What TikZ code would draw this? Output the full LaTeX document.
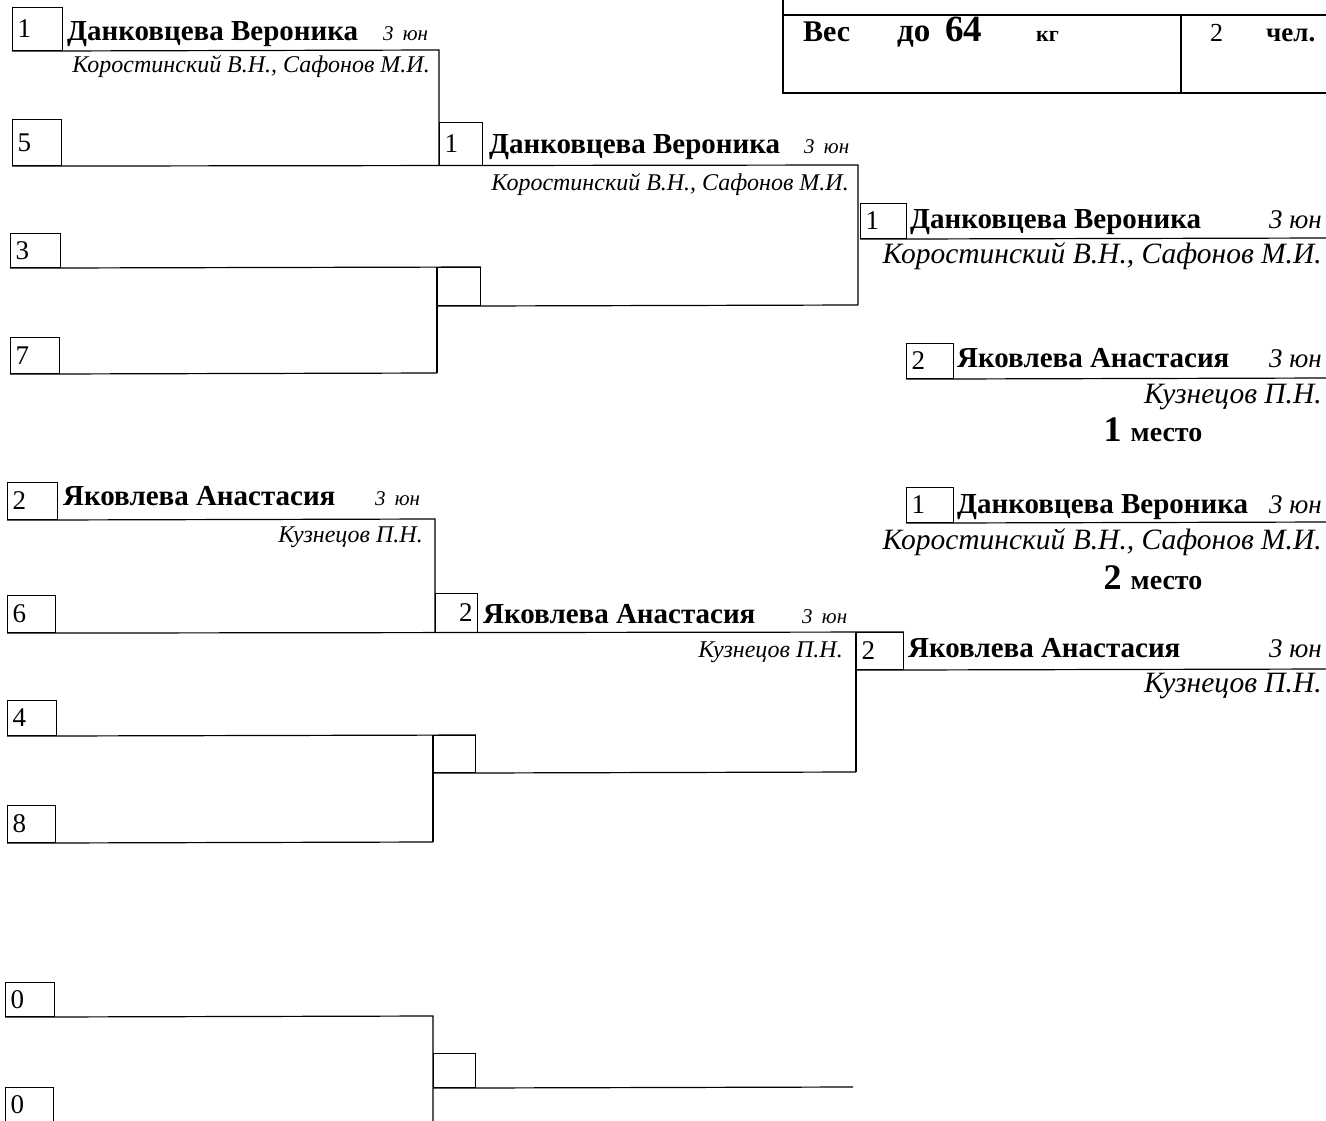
\documentclass[tikz,border=0pt]{standalone}
\usepackage{fontspec}
\setmainfont{Liberation Serif}
\begin{document}
\begin{tikzpicture}[x=1pt,y=-1pt,
  nbox/.style={draw, line width=1.1pt, anchor=north west, inner xsep=5pt, inner ysep=0pt, align=left, font=\fontsize{27}{27}\selectfont},
  nm/.style={anchor=base west, inner sep=0pt, font=\fontsize{29}{29}\selectfont\bfseries},
  yr/.style={anchor=base west, inner sep=0pt, font=\fontsize{21}{21}\selectfont\itshape},
  yrbig/.style={anchor=base east, inner sep=0pt, font=\fontsize{27}{27}\selectfont\itshape},
  co/.style={anchor=base east, inner sep=0pt, font=\fontsize{24}{24}\selectfont\itshape},
  cobig/.style={anchor=base east, inner sep=0pt, font=\fontsize{29.5}{29.5}\selectfont\itshape},
  wire/.style={line width=1.2pt, line join=miter},
  hdr/.style={line width=2.6pt},
  place/.style={anchor=base, inner sep=0pt, font=\bfseries}]
\useasboundingbox (0,0) rectangle (1326,1120);

% ---------- header ----------
\coordinate (h0) at (783,0);
\coordinate (h1) at (783,93);
\coordinate (h2) at (1330,93);
\coordinate (h3) at (783,15);
\coordinate (h4) at (1330,15);
\coordinate (h5) at (1181,15);
\coordinate (h6) at (1181,93);
\draw[hdr] (h0) -- (h1) -- (h2);
\draw[hdr] (h3) -- (h4);
\draw[hdr] (h5) -- (h6);
\node[anchor=base west, inner sep=0pt, font=\fontsize{30}{30}\selectfont\bfseries] (hv) at (803,41) {Вес};
\node[anchor=base west, inner sep=0pt, font=\fontsize{33}{33}\selectfont\bfseries] (hd) at (897,41) {до};
\node[anchor=base west, inner sep=0pt, font=\fontsize{37}{37}\selectfont\bfseries] (h64) at (945,41) {64};
\node[anchor=base west, inner sep=0pt, font=\fontsize{22}{22}\selectfont\bfseries] (hkg) at (1036,41) {кг};
\node[anchor=base west, inner sep=0pt, font=\fontsize{26}{26}\selectfont] (hn) at (1210,41) {2};
\node[anchor=base west, inner sep=0pt, font=\fontsize{27}{27}\selectfont\bfseries] (hch) at (1266,41) {чел.};

% ---------- upper half ----------
\node[nbox, text width=40pt, minimum height=43pt] (b1) at (12,7) {1};
\node[nbox, text width=39pt, minimum height=46pt] (b5) at (12,119) {5};
\coordinate (m1a) at (439,50);
\coordinate (m1b) at (439,165);
\coordinate (q1a) at (858,165);
\coordinate (q1b) at (858,305);
\draw[wire] (b1.south west) -- (m1a) -- (m1b);
\draw[wire] (b5.south west) -- (q1a) -- (q1b);
\node[nbox, text width=33pt, minimum height=43pt] (w1) at (439,122) {1};
\node[nm] (t1) at (67,40) {Данковцева Вероника};
\node[yr] (y1) at (383,40) {3\hspace{4pt} юн};
\node[co] (c1) at (430,72) {Коростинский В.Н., Сафонов М.И.};
\node[nm] (t2) at (489,153) {Данковцева Вероника};
\node[yr] (y2) at (804,153) {3\hspace{4pt} юн};
\node[co] (c2) at (849,190) {Коростинский В.Н., Сафонов М.И.};

\node[nbox, text width=40pt, minimum height=34pt] (b3) at (10,233) {3};
\node[nbox, text width=33pt, minimum height=38pt] (e1) at (437,267) {};
\node[nbox, text width=39pt, minimum height=36pt] (b7) at (10,337) {7};
\coordinate (m2b) at (437,373);
\draw[wire] (b3.south west) -- (e1.north east);
\draw[wire] (e1.north west) -- (m2b);
\draw[wire] (b7.south west) -- (m2b);
\draw[wire] (e1.south west) -- (q1b);

% final upper
\node[nbox, text width=36pt, minimum height=35pt] (f1) at (860,203) {1};
\coordinate (f1e) at (1330,238);
\draw[wire] (f1.south west) -- (f1e);
\node[nm] (t3) at (910,228) {Данковцева Вероника};
\node[yrbig] (y3) at (1322,228) {3 юн};
\node[cobig] (c3) at (1322,263) {Коростинский В.Н., Сафонов М.И.};

% ---------- results ----------
\node[nbox, text width=37pt, minimum height=35pt] (p2) at (906,343) {2};
\coordinate (p2e) at (1330,378);
\draw[wire] (p2.south west) -- (p2e);
\node[nm] (t4) at (957,367) {Яковлева Анастасия};
\node[yrbig] (y4) at (1322,367) {3 юн};
\node[cobig] (c4) at (1322,403) {Кузнецов П.Н.};
\node[place] (pl1) at (1153,441) {\fontsize{36}{36}\selectfont 1 \fontsize{28}{28}\selectfont место};

\node[nbox, text width=37pt, minimum height=35pt] (p1) at (906,487) {1};
\coordinate (p1e) at (1330,522);
\draw[wire] (p1.south west) -- (p1e);
\node[nm] (t5) at (957,513) {Данковцева Вероника};
\node[yrbig] (y5) at (1322,513) {3 юн};
\node[cobig] (c5) at (1322,549) {Коростинский В.Н., Сафонов М.И.};
\node[place] (pl2) at (1153,589) {\fontsize{36}{36}\selectfont 2 \fontsize{28}{28}\selectfont место};

% ---------- lower half ----------
\node[nbox, text width=40pt, minimum height=37pt] (b2) at (7,482) {2};
\node[nbox, text width=38pt, minimum height=37pt] (b6) at (7,595) {6};
\node[nbox, text width=32pt, minimum height=39pt, align=right] (w2) at (435,593) {2};
\node[nbox, text width=37pt, minimum height=37pt] (f2) at (856,632) {2};
\coordinate (m3a) at (435,519);
\coordinate (m3b) at (435,632);
\coordinate (q2b) at (856,772);
\draw[wire] (b2.south west) -- (m3a) -- (m3b);
\draw[wire] (b6.south west) -- (f2.north east);
\draw[wire] (f2.north west) -- (q2b);
\coordinate (f2e) at (1330,669);
\draw[wire] (f2.south west) -- (f2e);
\node[nm] (t6) at (63,505) {Яковлева Анастасия};
\node[yr] (y6) at (375,505) {3\hspace{4pt} юн};
\node[co] (c6) at (423,542) {Кузнецов П.Н.};
\node[nm] (t7) at (483,623) {Яковлева Анастасия};
\node[yr] (y7) at (802,623) {3\hspace{4pt} юн};
\node[co] (c7) at (843,657) {Кузнецов П.Н.};
\node[nm] (t8) at (908,657) {Яковлева Анастасия};
\node[yrbig] (y8) at (1322,657) {3 юн};
\node[cobig] (c8) at (1322,692) {Кузнецов П.Н.};

\node[nbox, text width=39pt, minimum height=35pt] (b4) at (7,700) {4};
\node[nbox, text width=32pt, minimum height=37pt] (e2) at (433,735) {};
\node[nbox, text width=38pt, minimum height=37pt] (b8) at (7,805) {8};
\coordinate (m4b) at (433,842);
\draw[wire] (b4.south west) -- (e2.north east);
\draw[wire] (e2.north west) -- (m4b);
\draw[wire] (b8.south west) -- (m4b);
\draw[wire] (e2.south west) -- (q2b);

% ---------- bottom ----------
\node[nbox, text width=39pt, minimum height=34pt] (z1) at (5,982) {0};
\node[nbox, text width=32pt, minimum height=34pt] (e3) at (433,1053) {};
\node[nbox, text width=38pt, minimum height=35pt] (z2) at (5,1087) {0};
\coordinate (m5a) at (433,1016);
\coordinate (m5b) at (433,1122);
\coordinate (e3r) at (853,1087);
\draw[wire] (z1.south west) -- (m5a) -- (m5b);
\draw[wire] (z2.south west) -- (m5b);
\draw[wire] (e3.south west) -- (e3r);
\end{tikzpicture}
\end{document}
